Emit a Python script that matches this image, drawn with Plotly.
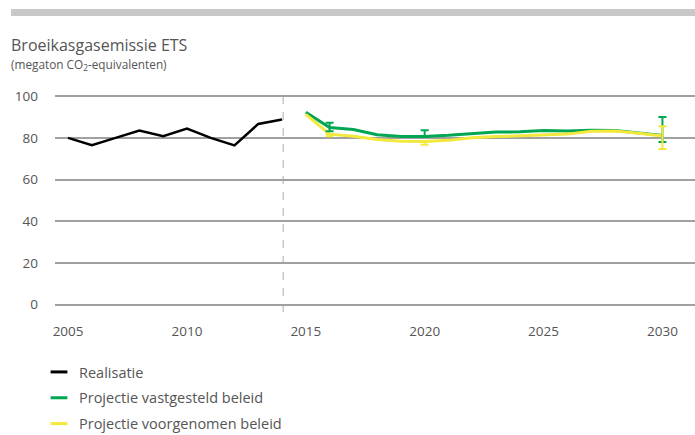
import plotly.graph_objects as go

# data
years_real = list(range(2005, 2015))
realisatie = [80, 76.5, 80, 83.5, 80.8, 84.5, 80, 76.4, 86.7, 88.8]

years_proj = list(range(2015, 2031))
vastgesteld = [92.3, 85.0, 84.0, 81.5, 80.6, 80.7, 81.2, 82.0, 82.8, 82.9, 83.5, 83.3, 83.7, 83.5, 82.4, 81.2]
voorgenomen = [91.3, 81.8, 80.8, 79.2, 78.4, 78.3, 78.8, 80.0, 80.6, 81.0, 81.2, 81.8, 83.2, 83.3, 82.2, 80.9]

# uncertainty bars (year, plus, minus)
err_years = [2016, 2020, 2030]
vast_err_plus = [2.2, 3.0, 8.8]
vast_err_minus = [1.8, 0.3, 3.2]
voor_err_plus = [0.0, 0.0, 4.7]
voor_err_minus = [1.0, 1.6, 6.2]

BLACK = "#000000"
GREEN = "#00a651"
YELLOW = "#f3e83c"
GRID = "#a0a0a0"
TEXT = "#555555"
FONT = "Open Sans"

W, H = 695, 435
ML, MR, MT, MB = 55, 0, 92, 122
PH = H - MT - MB


def py(px):
    # pixel row -> paper y
    return (H - MB - px) / PH


def pxx(px):
    return (px - ML) / (W - ML - MR)


fig = go.Figure()

fig.add_trace(go.Scatter(x=years_real, y=realisatie, mode="lines",
                         line=dict(color=BLACK, width=2.5), showlegend=False))
fig.add_trace(go.Scatter(x=years_proj, y=vastgesteld, mode="lines",
                         line=dict(color=GREEN, width=3), showlegend=False))
fig.add_trace(go.Scatter(x=years_proj, y=voorgenomen, mode="lines",
                         line=dict(color=YELLOW, width=3), showlegend=False))


def pick(series):
    return [series[years_proj.index(y)] for y in err_years]


fig.add_trace(go.Scatter(x=err_years, y=pick(vastgesteld), mode="markers",
                         marker=dict(size=1, opacity=0), showlegend=False, hoverinfo="skip",
                         error_y=dict(type="data", array=vast_err_plus, arrayminus=vast_err_minus,
                                      color=GREEN, thickness=2, width=4)))
fig.add_trace(go.Scatter(x=err_years, y=pick(voorgenomen), mode="markers",
                         marker=dict(size=1, opacity=0), showlegend=False, hoverinfo="skip",
                         error_y=dict(type="data", array=voor_err_plus, arrayminus=voor_err_minus,
                                      color=YELLOW, thickness=2, width=4)))

# legend entries with short line symbols
for name, col in [("Realisatie", BLACK), ("Projectie vastgesteld beleid", GREEN),
                  ("Projectie voorgenomen beleid", YELLOW)]:
    fig.add_trace(go.Scatter(x=[None], y=[None], mode="markers", name=name, legendgroup=name,
                             marker=dict(symbol="line-ew-open", size=12, color=col,
                                         line=dict(color=col, width=3))))

# dashed separator between realisation and projection
fig.add_shape(type="line", x0=2014.05, x1=2014.05, y0=-3.5, y1=101, xref="x", yref="y",
              line=dict(color="#c8c8c8", width=1.5, dash="8px,8px"), layer="below")

# grey bar on top
fig.add_shape(type="rect", xref="paper", yref="paper", x0=pxx(11), x1=1.0,
              y0=py(16), y1=py(9), fillcolor="#c8c8c8", line_width=0)

fig.add_annotation(text="Broeikasgasemissie ETS", xref="paper", yref="paper",
                   x=pxx(9), y=py(45), xanchor="left", yanchor="middle",
                   showarrow=False, font=dict(family=FONT, size=16, color=TEXT))
fig.add_annotation(text="(megaton CO<sub>2</sub>-equivalenten)", xref="paper", yref="paper",
                   x=pxx(9), y=py(64), xanchor="left", yanchor="middle",
                   showarrow=False, font=dict(family=FONT, size=11.8, color=TEXT))

fig.update_layout(
    width=W, height=H,
    margin=dict(l=ML, r=MR, t=MT, b=MB, autoexpand=False),
    paper_bgcolor="white", plot_bgcolor="white",
    font=dict(family=FONT, color=TEXT, size=13),
    xaxis=dict(range=[2004.45, 2031.37], tickvals=[2005, 2010, 2015, 2020, 2025, 2030],
               showgrid=False, zeroline=False, showline=False, ticks="",
               tickfont=dict(size=13.5, color=TEXT), ticklabelstandoff=8),
    yaxis=dict(range=[-4, 102], tickvals=[0, 20, 40, 60, 80, 100],
               showgrid=True, gridcolor=GRID, gridwidth=1.5, zeroline=False, showline=False,
               ticks="", tickfont=dict(size=13.5, color=TEXT), ticklabelstandoff=16),
    legend=dict(x=pxx(39), y=py(356), xanchor="left", yanchor="top", traceorder="grouped",
                tracegroupgap=4, font=dict(family=FONT, size=14.5, color=TEXT),
                bgcolor="rgba(0,0,0,0)"),
    showlegend=True,
)

fig.write_html("out.html", config={"displayModeBar": False},
               post_script="document.body.style.margin='0';")
